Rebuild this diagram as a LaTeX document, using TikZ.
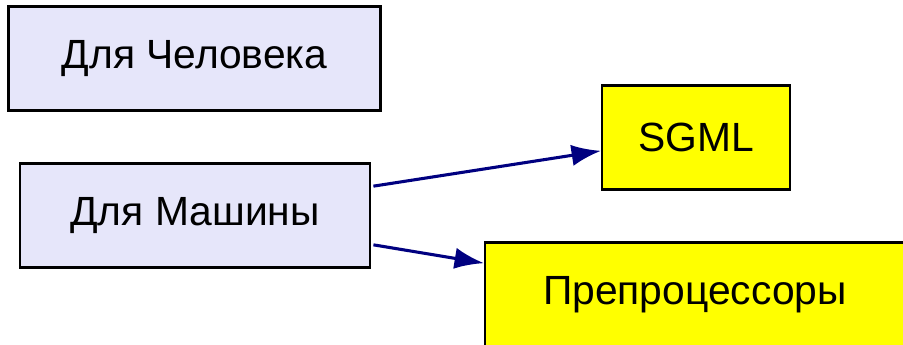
\documentclass[tikz,border=0pt]{standalone}
\usepackage{fontspec}
\setmainfont{Liberation Sans}
\usetikzlibrary{arrows.meta}
\definecolor{lavbox}{HTML}{E6E6FA}
\definecolor{navyline}{HTML}{000080}
\definecolor{toolfill}{HTML}{FFFF00}
\begin{document}
\begin{tikzpicture}
	[x=0.75pt,y=-0.75pt,
	kind/.style={rectangle,draw=black,line width=1.6pt,fill=lavbox,inner sep=0pt,minimum height=78pt,font=\fontsize{30.6}{36}\selectfont},
	tool/.style={kind,fill=toolfill},
	link/.style={-{Latex[length=22pt,width=16pt]},draw=navyline,line width=2.3pt}
	]
	\useasboundingbox (0,0) rectangle (903,345);
	\node[kind,minimum width=279pt] (human) at (194.5,58.5){Для Человека};
	\node[kind,minimum width=262pt] (machine) at (195,215.5){Для Машины};
	\node[tool,minimum width=141pt] (sgml) at (696,137.5){SGML};
	\node[tool,minimum width=315pt] (prep) at (695,294.5){Препроцессоры};

	\draw[link] ([xshift=2pt,yshift=22pt]machine.east) -- ([yshift=-10pt]sgml.west);
	\draw[link] ([xshift=2pt,yshift=-22pt]machine.east) -- ([yshift=23.5pt]prep.west);
\end{tikzpicture}
\end{document}
